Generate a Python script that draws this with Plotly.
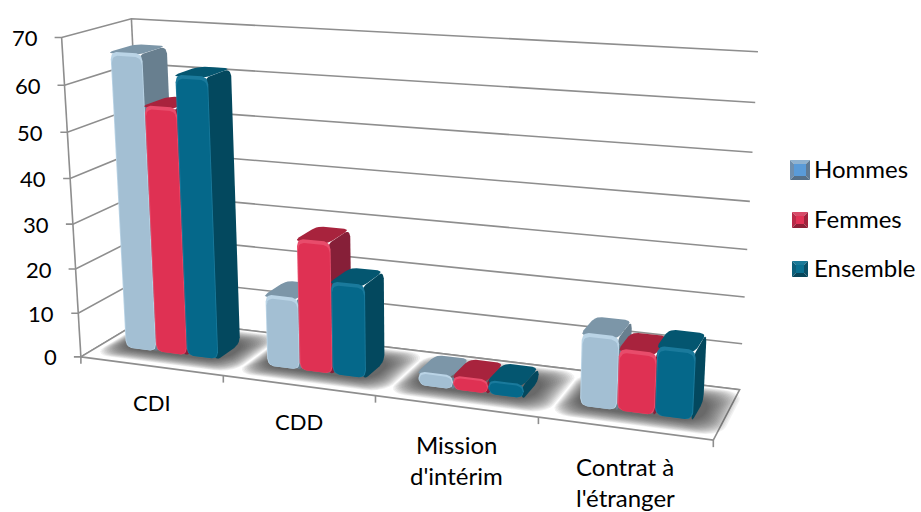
import numpy as np
import plotly.graph_objects as go

# Data
CATEGORIES = ["CDI", "CDD", "Mission<br>d'intérim", "Contrat à<br>l'étranger"]
SERIES = ["Hommes", "Femmes", "Ensemble"]
HOMMES = [66, 16, 3, 15.5]
FEMMES = [55, 29, 3, 13]
ENSEMBLE = [62, 20.5, 3, 14.5]
VALUE_TICKS = [0, 10, 20, 30, 40, 50, 60, 70]

# Colours: front, bevel highlight, top, side
PALETTE = {
    "Hommes": ("#A3BFD3", "#BAD4E6", "#7C96A8", "#687F8F"),
    "Femmes": ("#DF3153", "#E84C6B", "#A8233D", "#861F38"),
    "Ensemble": ("#05688A", "#1A7A9C", "#045670", "#03485E"),
}
GRID = "#8E8E8E"
FONT_DIGIT = dict(family="Lato, Carlito, sans-serif", size=22, color="#000000")
FONT_WORD = dict(family="Lato, Carlito, sans-serif", size=24, color="#000000")

# Camera calibration of the plot box: (category, depth, value) -> page position
CALIB = [
    ((0, 0, 0), (81, 356)), ((1, 0, 0), (223, 375)), ((2, 0, 0), (376, 396)),
    ((3, 0, 0), (538, 418)), ((4, 0, 0), (713, 441)), ((4, 1, 0), (740, 388)),
    ((0, 1, 0), (146, 319)), ((0, 0, 70), (62, 37)), ((0, 1, 70), (131, 19)),
    ((4, 1, 70), (758, 52)),
]


def fit_camera(pairs):
    rows = []
    for (u, v, w), (x, y) in pairs:
        p = [u / 4, v, w / 70, 1]
        rows.append(p + [0, 0, 0, 0] + [-x * c for c in p])
        rows.append([0, 0, 0, 0] + p + [-y * c for c in p])
    return np.linalg.svd(np.array(rows, float))[2][-1].reshape(3, 4)


CAM = fit_camera(CALIB)


def project(points):
    pts = np.asarray(points, float)
    h = np.c_[pts[:, 0] / 4, pts[:, 1], pts[:, 2] / 70, np.ones(len(pts))]
    q = h @ CAM.T
    return q[:, 0] / q[:, 2], q[:, 1] / q[:, 2]


def rounded(a0, a1, b0, b1, ra, rb, n=6):
    """Rounded rectangle outline in plane coordinates (a, b)."""
    ra = min(ra, (a1 - a0) / 2)
    rb = min(rb, (b1 - b0) / 2)
    t = np.linspace(0, np.pi / 2, n)
    out = []
    centres = [(a1 - ra, b1 - rb, 0), (a0 + ra, b1 - rb, np.pi / 2),
               (a0 + ra, b0 + rb, np.pi), (a1 - ra, b0 + rb, 3 * np.pi / 2)]
    for ca, cb, start in centres:
        out += [(ca + ra * np.cos(start + s), cb + rb * np.sin(start + s)) for s in t]
    out.append(out[0])
    return np.array(out)


fig = go.Figure()


def polygon(x, y, color, name="", hover=None):
    fig.add_trace(go.Scatter(
        x=list(x), y=list(y), mode="lines", fill="toself", fillcolor=color,
        line=dict(width=0, color=color), showlegend=False, name=name,
        hoverinfo="text" if hover else "skip", text=hover,
    ))


def polyline(x, y, width=1.6):
    fig.add_trace(go.Scatter(
        x=list(x), y=list(y), mode="lines", line=dict(color=GRID, width=width),
        showlegend=False, hoverinfo="skip",
    ))


# Gridlines across the side wall and back wall, plus value ticks and labels
annotations = []
for tick in VALUE_TICKS:
    x, y = project([(0, 0, tick), (0, 1, tick), (4, 1, tick)])
    polyline([x[0] - 7, *x], [y[0], *y])
    annotations.append(dict(x=x[0] - 22, y=y[0], text=str(tick), xanchor="right", yanchor="middle",
                            showarrow=False, font=FONT_DIGIT))
x, y = project([(0, 0, 0), (0, 0, 70)])
polyline(x, y)
x, y = project([(0, 1, 0), (0, 1, 70)])
polyline(x, y)

# Floor
x, y = project([(0, 0, 0), (4, 0, 0), (4, 1, 0), (0, 1, 0), (0, 0, 0)])
polygon(x, y, "#FFFFFF")
polyline(x, y)

# Soft contact shadows on the floor
LAYERS = 18
for k in range(len(CATEGORIES)):
    for i in range(LAYERS):
        grow = 1 - i / (LAYERS - 1)
        ring = rounded(k + 0.14 - 0.10 * grow, k + 0.88 + 0.15 * grow,
                       0.28 - 0.20 * grow, 0.72 + 0.24 * grow, 0.12, 0.18)
        x, y = project([(a, b, 0) for a, b in ring])
        polygon(x, y, "rgba(50,50,50,0.07)")

# Category ticks and labels
for k in range(len(CATEGORIES) + 1):
    x, y = project([(k, 0, 0)])
    polyline([x[0], x[0]], [y[0], y[0] + 7])
for k, label in enumerate(CATEGORIES):
    x, y = project([(k + 0.5, 0, 0)])
    lines = label.split("<br>")
    for j, line in enumerate(lines):
        shift = 38 if len(lines) > 1 else 36
        annotations.append(dict(x=x[0] + 1, y=y[0] + shift + 31 * j, text=line, xanchor="center", yanchor="middle",
                                showarrow=False, font=FONT_WORD if len(lines) > 1 else FONT_DIGIT))

# Bars laid out with a 150 % gap in both directions
BAR_W = 0.22
U_START = 0.175
V0, V1 = 0.31, 0.68
RU, RV, RW = 0.04, 0.10, 1.6
TUCK = 0.06  # side and top faces run slightly behind the front face to close the corner
VALUES = {"Hommes": HOMMES, "Femmes": FEMMES, "Ensemble": ENSEMBLE}

for k, cat in enumerate(CATEGORIES):
    for s, series in enumerate(SERIES):
        val = VALUES[series][k]
        front, light, top, side = PALETTE[series]
        u0 = k + U_START + BAR_W * s
        u1 = u0 + BAR_W
        tip = f"{series} – {cat.replace('<br>', ' ')}: {val}"

        ring = rounded(V0 - TUCK, V1, 0, val, RV, RW)
        x, y = project([(u1, a, b) for a, b in ring])
        polygon(x, y, side, series, tip)

        ring = rounded(u0, u1, V0 - TUCK, V1, RU, RV)
        x, y = project([(a, b, val) for a, b in ring])
        polygon(x, y, top, series, tip)

        ring = rounded(u0, u1, 0, val, RU, RW)
        x, y = project([(a, V0, b) for a, b in ring])
        polygon(x, y, light, series, tip)

        ring = rounded(u0 + 0.006, u1 - 0.006, 0, val - min(0.8, val * 0.15), RU, RW)
        x, y = project([(a, V0, b) for a, b in ring])
        polygon(x, y, front, series, tip)

# Legend keys drawn as small bevelled squares
LEGEND_KEYS = [("Hommes", 170, 10, ("#8FB2D0", "#6F8FAE", "#5F7A94", "#567088"), "#5A9BD8"),
               ("Femmes", 220, 8, ("#D84A68", "#B92A48", "#A0223C", "#8E1F36"), "#E13255"),
               ("Ensemble", 269, 8, ("#1A7A98", "#0C5F7A", "#0A4F66", "#08465A"), "#0A7090")]
for series, cy, half, edges, inner in LEGEND_KEYS:
    cx = 800
    h = half - 4
    l, r, t, b = cx - half, cx + half, cy - half, cy + half
    il, ir, it, ib = cx - h, cx + h, cy - h, cy + h
    polygon([l, r, ir, il, l], [t, t, it, it, t], edges[0])
    polygon([l, il, il, l, l], [t, it, ib, b, t], edges[1])
    polygon([r, ir, ir, r, r], [t, it, ib, b, t], edges[2])
    polygon([l, r, ir, il, l], [b, b, ib, ib, b], edges[3])
    polygon([il, ir, ir, il, il], [it, it, ib, ib, it], inner)
    annotations.append(dict(x=812, y=cy - 2, text=series, xanchor="left", yanchor="middle",
                            showarrow=False, font=FONT_WORD))

fig.update_layout(
    width=921, height=512, margin=dict(l=0, r=0, t=0, b=0),
    paper_bgcolor="#FFFFFF", plot_bgcolor="#FFFFFF", showlegend=False,
    xaxis=dict(range=[0, 921], visible=False, fixedrange=True),
    yaxis=dict(range=[512, 0], visible=False, fixedrange=True),
    annotations=annotations,
)
fig.write_html("out.html")
